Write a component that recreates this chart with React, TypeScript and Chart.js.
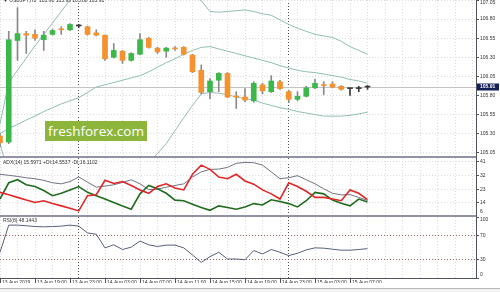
import React, { useEffect, useRef } from 'react';
import { Chart, registerables } from 'chart.js';

Chart.register(...registerables);

// ---------- data ----------
const xTickLabels = ['13 Aug 2019', '13 Aug 19:00', '13 Aug 23:00', '14 Aug 03:00', '14 Aug 07:00', '14 Aug 11:00', '14 Aug 15:00', '14 Aug 19:00', '14 Aug 23:00', '15 Aug 03:00', '15 Aug 07:00'];
const labelEvery = 4; // one label per 4 hourly bars
const daySeparators = [9, 33]; // bars at 14 Aug 00:00 and 15 Aug 00:00
const xMax = 54.4; // empty space to the right of the last bar

const opens = [105.27, 105.19, 106.52, 106.61, 106.60, 106.53, 106.60, 106.67, 106.66, 106.71, 106.70, 106.62, 106.59, 106.30, 106.38, 106.26, 106.34, 106.55, 106.42, 106.38, 106.42, 106.43, 106.33, 106.13, 105.85, 106.00, 106.09, 105.79, 105.78, 105.73, 105.94, 105.85, 105.98, 105.85, 105.75, 105.79, 105.90, 105.94, 105.95, 105.92, 105.89, 105.89, 105.91];
const highs = [105.30, 106.64, 106.95, 106.64, 106.66, 106.64, 106.67, 106.70, 106.74, 106.73, 106.71, 106.66, 106.59, 106.48, 106.39, 106.36, 106.61, 106.56, 106.43, 106.43, 106.44, 106.44, 106.34, 106.20, 106.02, 106.10, 106.10, 105.85, 105.89, 105.98, 105.96, 106.06, 106.00, 105.87, 105.85, 105.92, 106.01, 105.98, 105.98, 105.93, 105.89, 105.92, 105.93];
const lows = [105.13, 105.17, 106.26, 106.35, 106.52, 106.39, 106.59, 106.60, 106.65, 106.69, 106.59, 106.58, 106.26, 106.29, 106.22, 106.25, 106.33, 106.42, 106.35, 106.30, 106.39, 106.33, 106.10, 105.82, 105.76, 105.85, 105.77, 105.63, 105.72, 105.71, 105.82, 105.84, 105.88, 105.71, 105.73, 105.78, 105.89, 105.81, 105.90, 105.87, 105.80, 105.85, 105.88];
const closes = [105.18, 106.53, 106.61, 106.59, 106.55, 106.59, 106.65, 106.66, 106.73, 106.71, 106.60, 106.59, 106.28, 106.39, 106.26, 106.35, 106.53, 106.43, 106.37, 106.42, 106.41, 106.34, 106.11, 105.84, 105.99, 106.09, 105.78, 105.78, 105.74, 105.96, 105.86, 105.99, 105.89, 105.75, 105.79, 105.90, 105.96, 105.93, 105.91, 105.88, 105.89, 105.89, 105.91];

const bbUpper = [105.43, 105.97, 106.13, 106.29, 106.45, 106.60, 106.75, 106.90, 107.05, 107.15, 107.22, 107.26, 107.28, 107.29, 107.30, 107.30, 107.30, 107.30, 107.30, 107.27, 107.22, 107.17, 107.11, 107.04, 106.90, 106.89, 106.90, 106.91, 106.92, 106.90, 106.87, 106.85, 106.79, 106.73, 106.68, 106.64, 106.60, 106.58, 106.56, 106.51, 106.44, 106.39, 106.34];
const bbMiddle = [105.30, 105.37, 105.42, 105.48, 105.53, 105.59, 105.64, 105.69, 105.73, 105.77, 105.84, 105.91, 105.94, 105.97, 106.00, 106.03, 106.06, 106.11, 106.17, 106.23, 106.28, 106.34, 106.39, 106.43, 106.44, 106.41, 106.38, 106.35, 106.32, 106.29, 106.26, 106.23, 106.19, 106.16, 106.13, 106.11, 106.10, 106.08, 106.06, 106.04, 106.01, 105.99, 105.96];
const bbLower = [105.17, 104.77, 104.71, 104.67, 104.61, 104.58, 104.53, 104.48, 104.41, 104.39, 104.46, 104.56, 104.60, 104.65, 104.70, 104.76, 104.82, 104.92, 105.04, 105.17, 105.34, 105.51, 105.67, 105.82, 105.84, 105.83, 105.81, 105.78, 105.76, 105.74, 105.70, 105.67, 105.64, 105.62, 105.59, 105.57, 105.55, 105.53, 105.53, 105.53, 105.54, 105.56, 105.58];

const adxMain = [32.8, 32.1, 31.4, 30.5, 29.9, 28.8, 27.2, 26.5, 28.0, 31.0, 27.6, 24.3, 25.0, 25.9, 27.4, 29.2, 26.5, 22.7, 23.0, 24.3, 25.4, 26.5, 31.0, 34.4, 36.0, 36.2, 37.3, 40.0, 40.6, 40.4, 38.8, 34.4, 29.9, 30.5, 31.9, 29.2, 26.5, 23.2, 20.3, 19.2, 19.4, 17.6, 15.5971];
const plusDI = [16.5, 27.2, 29.2, 25.9, 24.7, 22.1, 18.7, 20.3, 22.5, 24.7, 20.9, 18.7, 16.5, 14.2, 12.0, 9.8, 19.9, 25.4, 23.2, 20.3, 15.8, 15.4, 13.1, 10.9, 9.1, 12.0, 10.9, 9.8, 11.3, 13.5, 12.6, 16.0, 14.9, 13.5, 11.3, 15.4, 20.9, 19.9, 15.8, 13.8, 12.0, 16.5, 14.5537];
const minusDI = [20.9, 19.3, 17.6, 15.8, 14.2, 15.4, 13.5, 12.0, 10.4, 8.7, 18.7, 19.3, 28.8, 26.7, 28.0, 25.4, 22.5, 20.3, 24.7, 26.5, 23.8, 22.5, 32.8, 38.8, 36.0, 31.0, 29.9, 32.8, 28.4, 26.3, 22.5, 19.9, 16.5, 27.2, 24.7, 21.6, 17.6, 17.6, 16.5, 15.4, 22.5, 20.3, 16.1102];
const rsiValues = [42.2, 86.7, 86.7, 85.6, 84.4, 83.9, 84.4, 85.0, 86.7, 85.0, 73.9, 71.7, 49.4, 54.4, 46.7, 50.6, 60.6, 54.4, 51.7, 53.9, 53.9, 49.4, 37.8, 25.6, 35.0, 42.2, 31.1, 31.1, 30.0, 45.0, 39.4, 46.7, 42.2, 36.7, 40.6, 46.1, 49.4, 48.9, 47.2, 45.6, 45.6, 46.7, 48.1443];

const priceTicks = [105.05, 105.30, 105.55, 105.80, 106.05, 106.30, 106.55, 106.80, 107.05];
const priceMin = 105.008;
const priceMax = 107.05;
const lastPrice = 105.91;
const adxTicks = [6, 14, 23, 32, 41];
const adxMin = 6;
const adxMax = 43.5;
const rsiTicks = [0, 30, 70, 100];
const rsiLevels = [30, 70];

const symbolTitle = '\u25BC USDJPY,H1  105.91 105.93 105.88 105.91';
const adxTitle = 'ADX(14) 15.5971 +DI:14.5537 -DI:16.1102';
const rsiTitle = 'RSI(8) 48.1443';
const watermark = 'freshforex.com';

// ---------- styles ----------
const FONT = '"Liberation Sans", Arial, sans-serif';
const FS = 5;
const TEXT = '#333333';
const AXIS = '#50545f';
const GRID = '#dcdcdc';
const SEP = '#505050';
const BULL = '#3cb84a';
const BEAR = '#f5922f';
const DOJI = '#3a3a3a';
const WICK = '#8a8a8a';
const BAND = '#93bcb6';
const ADX_C = '#6e7382';
const PDI_C = '#216b21';
const MDI_C = '#e2262a';
const RSI_C = '#56607a';
const LEVEL = '#b85a55';
const BAR_SEP = '#8f93a3';

const xLabelFor = (v: number) =>
  v % labelEvery === 0 && v / labelEvery < xTickLabels.length ? xTickLabels[v / labelEvery] : '';

const axisLabelsPlugin = {
  id: 'axisLabels',
  afterDraw(chart: any, _args: any, o: any) {
    if (!o || !o.values) return;
    const s = chart.scales.y;
    const { top, bottom, right } = chart.chartArea;
    const ctx = chart.ctx;
    ctx.save();
    ctx.font = `${FS}px ${FONT}`;
    ctx.fillStyle = TEXT;
    ctx.textAlign = 'left';
    ctx.textBaseline = 'middle';
    for (const v of o.values) {
      const y = Math.min(Math.max(s.getPixelForValue(v), top + 3), bottom - 3);
      ctx.fillText(Number(v).toFixed(o.decimals), right + 4, y);
    }
    if (o.title) ctx.fillText(o.title, 3, top + o.titleY);
    ctx.restore();
  },
};

const priceTagPlugin = {
  id: 'priceTag',
  beforeDatasetsDraw(chart: any, _a: any, o: any) {
    if (!o || o.value == null) return;
    const y = Math.round(chart.scales.y.getPixelForValue(o.value)) + 0.5;
    const { left, right } = chart.chartArea;
    const ctx = chart.ctx;
    ctx.save();
    ctx.strokeStyle = '#c4c4c4';
    ctx.lineWidth = 1;
    ctx.beginPath();
    ctx.moveTo(left, y);
    ctx.lineTo(right, y);
    ctx.stroke();
    ctx.restore();
  },
  afterDraw(chart: any, _a: any, o: any) {
    if (!o || o.value == null) return;
    const y = chart.scales.y.getPixelForValue(o.value);
    const { right } = chart.chartArea;
    const ctx = chart.ctx;
    ctx.save();
    ctx.fillStyle = '#132057';
    ctx.fillRect(right + 1, Math.round(y) - 3.5, 22, 7);
    ctx.fillStyle = '#ffffff';
    ctx.font = `bold ${FS}px ${FONT}`;
    ctx.textAlign = 'left';
    ctx.textBaseline = 'middle';
    ctx.fillText(Number(o.value).toFixed(2), right + 4, y);
    ctx.restore();
  },
};

function xScale(showLabels: boolean): any {
  return {
    type: 'linear',
    min: 0,
    max: xMax,
    offset: false,
    afterBuildTicks: (s: any) => {
      const vals: number[] = [];
      for (let v = 0; v <= xMax; v += 2) vals.push(v);
      daySeparators.forEach((d) => vals.push(d));
      vals.sort((a, b) => a - b);
      s.ticks = vals.map((value) => ({ value }));
    },
    grid: {
      offset: false,
      color: (c: any) => (daySeparators.includes(c.tick?.value) ? SEP : GRID),
      lineWidth: 1,
      drawTicks: showLabels,
      tickLength: 5,
      tickBorderDash: [],
      tickColor: (c: any) => (xLabelFor(c.tick?.value) ? AXIS : 'rgba(0,0,0,0)'),
    },
    border: { display: false, dash: [1, 2] },
    ticks: {
      display: showLabels,
      autoSkip: false,
      maxRotation: 0,
      minRotation: 0,
      align: 'start',
      labelOffset: 2,
      padding: -3,
      color: TEXT,
      font: { family: FONT, size: FS },
      callback: (v: any) => xLabelFor(Number(v)),
    },
  };
}

function yScale(min: number, max: number, ticks: number[], gridColor: any): any {
  return {
    type: 'linear',
    position: 'right',
    min,
    max,
    beginAtZero: false,
    afterBuildTicks: (s: any) => {
      s.ticks = ticks.map((value) => ({ value }));
    },
    afterFit: (s: any) => {
      s.width = 24;
    },
    grid: { color: gridColor, lineWidth: 1, drawTicks: true, tickLength: 3, tickColor: AXIS, tickBorderDash: [] },
    border: { display: false, dash: [1, 2] },
    ticks: { display: false },
  };
}

const baseOptions = {
  responsive: false,
  animation: false,
  events: [],
  layout: { padding: 0 },
};

function mainConfig(): any {
  const bodyColors = opens.map((o, i) => (closes[i] > o ? BULL : closes[i] < o ? BEAR : DOJI));
  const wickColors = opens.map((o, i) => (closes[i] === o ? DOJI : WICK));
  const band = (vals: number[], label: string) => ({
    type: 'line',
    label,
    data: vals.map((y, x) => ({ x, y })),
    borderColor: BAND,
    borderWidth: 1,
    pointRadius: 0,
    tension: 0,
    fill: false,
    order: 3,
  });
  return {
    type: 'bar',
    data: {
      datasets: [
        {
          label: 'body',
          data: opens.map((o, i) => ({ x: i, y: [o, closes[i]] })),
          backgroundColor: bodyColors,
          borderWidth: 0,
          barThickness: 5,
          minBarLength: 1,
          grouped: false,
          order: 0,
        },
        {
          label: 'wick',
          data: lows.map((l, i) => ({ x: i, y: [l, highs[i]] })),
          backgroundColor: wickColors,
          borderWidth: 0,
          barThickness: 1,
          grouped: false,
          order: 1,
        },
        band(bbUpper, 'upper'),
        band(bbMiddle, 'middle'),
        band(bbLower, 'lower'),
      ],
    },
    options: {
      ...baseOptions,
      scales: { x: xScale(false), y: yScale(priceMin, priceMax, priceTicks, GRID) },
      plugins: {
        legend: { display: false },
        tooltip: { enabled: false },
        axisLabels: { values: priceTicks, decimals: 2, title: symbolTitle, titleY: 1 },
        priceTag: { value: lastPrice },
      },
    },
    plugins: [axisLabelsPlugin, priceTagPlugin],
  };
}

function lineSet(vals: number[], label: string, color: string, width: number, order: number) {
  return {
    label,
    data: vals.map((y, x) => ({ x, y })),
    borderColor: color,
    borderWidth: width,
    pointRadius: 0,
    tension: 0,
    fill: false,
    order,
  };
}

function adxConfig(): any {
  return {
    type: 'line',
    data: {
      datasets: [
        lineSet(minusDI, '-DI', MDI_C, 1.6, 0),
        lineSet(plusDI, '+DI', PDI_C, 1.6, 1),
        lineSet(adxMain, 'ADX', ADX_C, 1, 2),
      ],
    },
    options: {
      ...baseOptions,
      scales: { x: xScale(false), y: yScale(adxMin, adxMax, adxTicks, GRID) },
      plugins: {
        legend: { display: false },
        tooltip: { enabled: false },
        axisLabels: { values: adxTicks, decimals: 0, title: adxTitle, titleY: 5 },
      },
    },
    plugins: [axisLabelsPlugin],
  };
}

function rsiConfig(): any {
  return {
    type: 'line',
    data: { datasets: [lineSet(rsiValues, 'RSI', RSI_C, 1, 0)] },
    options: {
      ...baseOptions,
      scales: {
        x: xScale(true),
        y: yScale(0, 100, rsiTicks, (c: any) => (rsiLevels.includes(c.tick?.value) ? LEVEL : 'rgba(0,0,0,0)')),
      },
      plugins: {
        legend: { display: false },
        tooltip: { enabled: false },
        axisLabels: { values: rsiTicks, decimals: 0, title: rsiTitle, titleY: 4 },
      },
    },
    plugins: [axisLabelsPlugin],
  };
}

export default function App() {
  const mainRef = useRef<HTMLCanvasElement>(null);
  const adxRef = useRef<HTMLCanvasElement>(null);
  const rsiRef = useRef<HTMLCanvasElement>(null);

  useEffect(() => {
    const charts = [
      new Chart(mainRef.current as HTMLCanvasElement, mainConfig()),
      new Chart(adxRef.current as HTMLCanvasElement, adxConfig()),
      new Chart(rsiRef.current as HTMLCanvasElement, rsiConfig()),
    ];
    return () => charts.forEach((c) => c.destroy());
  }, []);

  const abs = (s: any) => ({ position: 'absolute' as const, ...s });

  return (
    <div style={{ position: 'fixed', left: 0, top: 0, width: 500, height: 292, background: '#ffffff', overflow: 'hidden' }}>
      <canvas ref={mainRef} width={500} height={156} style={abs({ left: 0, top: 0 })} />
      <canvas ref={adxRef} width={500} height={57} style={abs({ left: 0, top: 158 })} />
      <canvas ref={rsiRef} width={500} height={66} style={abs({ left: 0, top: 217 })} />
      <div style={abs({ left: 0, top: 156, width: 477, height: 2, background: BAR_SEP })} />
      <div style={abs({ left: 0, top: 215, width: 477, height: 2, background: BAR_SEP })} />
      <div style={abs({ left: 476, top: 0, width: 1, height: 279, background: AXIS })} />
      <div style={abs({ left: 0, top: 278, width: 477, height: 1, background: AXIS })} />
      <div style={abs({ left: 0, top: 288, width: 500, height: 4, background: '#f2f2f2', borderTop: '1px solid #b8b8b8' })} />
      <div
        style={abs({
          left: 45,
          top: 121,
          width: 102,
          height: 20,
          background: '#8db53c',
          color: '#ffffff',
          font: '13.5px "Open Sans", sans-serif',
          lineHeight: '20px',
          textAlign: 'center',
        })}
      >
        {watermark}
      </div>
    </div>
  );
}
